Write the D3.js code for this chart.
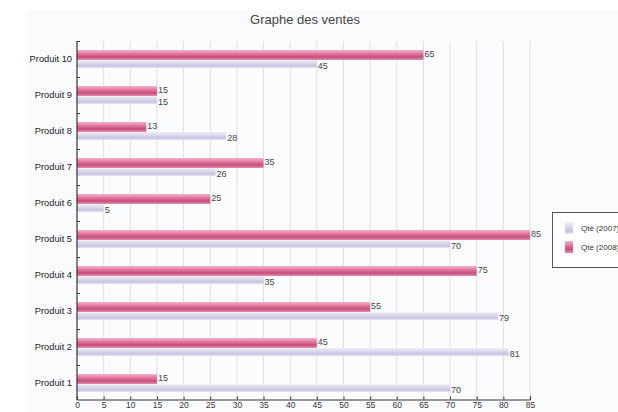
<!DOCTYPE html>
<html>
<head>
<meta charset="utf-8">
<script src="https://cdn.jsdelivr.net/npm/d3@7"></script>
<style>
html,body{margin:0;padding:0;background:#fff;}
svg{display:block;font-family:"Liberation Sans",Arial,sans-serif;}
</style>
</head>
<body>
<svg id="c" width="618" height="412"></svg>
<script>
const categories = ["Produit 10","Produit 9","Produit 8","Produit 7","Produit 6","Produit 5","Produit 4","Produit 3","Produit 2","Produit 1"];
const seriesNames = ["Qté (2008)","Qté (2007)"];
const pinkValues = [65,15,13,35,25,85,75,55,45,15];
const lavenderValues = [45,15,28,26,5,70,35,79,81,70];
const xTicks = [0,5,10,15,20,25,30,35,40,45,50,55,60,65,70,75,80,85];
const legendLabels = ["Qté (2007)","Qté (2008)"];

const svg = d3.select("#c");
const defs = svg.append("defs");
function grad(id, stops){
  const g = defs.append("linearGradient").attr("id",id).attr("x1",0).attr("y1",0).attr("x2",0).attr("y2",1);
  stops.forEach(s=>g.append("stop").attr("offset",s[0]).attr("stop-color",s[1]));
}
grad("gPink",[[0,"#f3b3cb"],[0.35,"#e27aa1"],[0.7,"#c94c7c"],[1,"#e58fb0"]]);
grad("gLav",[[0,"#f1eff8"],[0.4,"#dcd8ec"],[0.75,"#c9c3e0"],[1,"#e6e3f2"]]);

// background panel
svg.append("rect").attr("x",27).attr("y",10).attr("width",591).attr("height",402).attr("fill","#f9fbfd");

const x = d3.scaleLinear().domain([0,85]).range([77,530]);
const y = d3.scaleBand().domain(categories).range([41,401]);
const inner = d3.scaleBand().domain(seriesNames).range([9,27]);

// plot background
svg.append("rect").attr("x",77).attr("y",41).attr("width",453).attr("height",358).attr("fill","#fbfcfe");

// gridlines
svg.append("g").selectAll("line").data(xTicks.filter(d=>d>0)).join("line")
  .attr("x1",d=>x(d)).attr("x2",d=>x(d)).attr("y1",41).attr("y2",399)
  .attr("stroke","#dcdfe6").attr("stroke-width",1);

// title
svg.append("text").attr("x",305).attr("y",24).attr("text-anchor","middle")
  .attr("font-size",13).attr("fill","#444").text("Graphe des ventes");

const data = categories.map((c,i)=>({cat:c, pink:pinkValues[i], lav:lavenderValues[i]}));

const g = svg.append("g");
data.forEach(d=>{
  const by = y(d.cat);
  g.append("rect").attr("x",x(0)).attr("y",by+inner(seriesNames[0])).attr("width",x(d.pink)-x(0)).attr("height",inner.bandwidth()+1).attr("fill","url(#gPink)");
  g.append("rect").attr("x",x(0)).attr("y",by+inner(seriesNames[1])+1).attr("width",x(d.lav)-x(0)).attr("height",inner.bandwidth()-1).attr("fill","url(#gLav)");
  g.append("text").attr("x",x(d.pink)+1).attr("y",by+inner(seriesNames[0])+inner.bandwidth()/2+2).attr("font-size",9).attr("fill","#444").text(d.pink);
  g.append("text").attr("x",x(d.lav)+1).attr("y",by+inner(seriesNames[1])+inner.bandwidth()/2+5).attr("font-size",9).attr("fill","#444").text(d.lav);
});

// y axis
const yAxisG = svg.append("g");
yAxisG.append("line").attr("x1",77).attr("x2",77).attr("y1",41).attr("y2",400).attr("stroke","#333").attr("stroke-width",1.2);
const boundaries = d3.range(categories.length).map(i=>y(categories[i]));
yAxisG.selectAll(".bt").data(boundaries).join("line")
  .attr("x1",77).attr("x2",80).attr("y1",d=>d+0.5).attr("y2",d=>d+0.5).attr("stroke","#333");
yAxisG.selectAll("text").data(categories).join("text")
  .attr("x",72).attr("y",d=>y(d)+y.bandwidth()/2+3).attr("text-anchor","end")
  .attr("font-size",9.3).attr("fill","#222").text(d=>d);

// x axis
const xAxis = d3.axisBottom(x).tickValues(xTicks).tickSize(-3).tickPadding(2);
const xg = svg.append("g").attr("transform","translate(0,399.5)").call(xAxis);
xg.select(".domain").attr("stroke","#333");
xg.selectAll(".tick line").attr("stroke","#333");
xg.selectAll(".tick text").attr("font-size",8.5).attr("fill","#333").attr("font-family","Liberation Sans, Arial, sans-serif");

// legend
const lg = svg.append("g");
lg.append("rect").attr("x",552.5).attr("y",212.5).attr("width",80).attr("height",55).attr("fill","#fff").attr("stroke","#555");
const legendFills = ["url(#gLav)","url(#gPink)"];
legendLabels.forEach((l,i)=>{
  lg.append("rect").attr("x",565).attr("y",222+i*19).attr("width",8).attr("height",12).attr("fill",legendFills[i]);
  lg.append("text").attr("x",581).attr("y",231+i*19).attr("font-size",8).attr("fill","#333").text(l);
});
</script>
</body>
</html>
